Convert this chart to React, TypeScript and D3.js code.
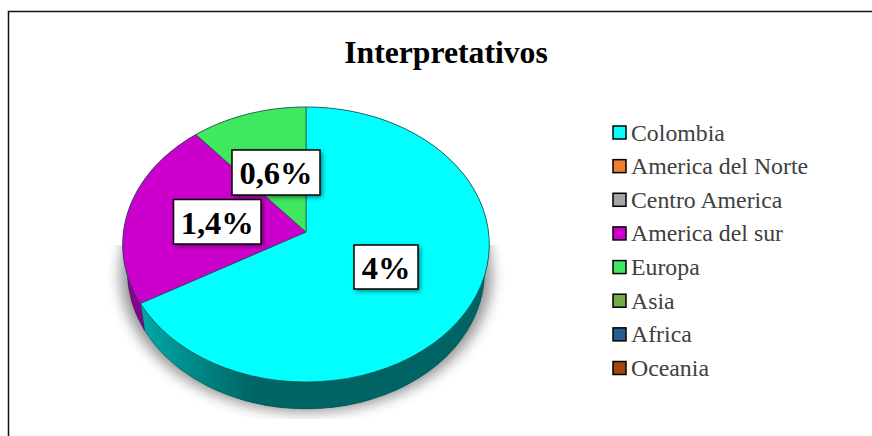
import React from "react";
import * as d3 from "d3";

const chartTitle = "Interpretativos";
const categories = ["Colombia", "America del Norte", "Centro America", "America del sur", "Europa", "Asia", "Africa", "Oceania"];
const sliceValues = [4, 0, 0, 1.33, 0.67, 0, 0, 0];
const sliceLabels = ["4%", "", "", "1,4%", "0,6%", "", "", ""];
const sliceColors = ["#00FFFF", "#ED7D31", "#A5A5A5", "#CC00CC", "#3FE85F", "#70AD47", "#255E91", "#9E480E"];
const sideColors = ["url(#wallCyan)", "#000", "#000", "#8A008A", "#228040", "#000", "#000", "#000"];

const W = 872, H = 436;
const cx = 306, apexY = 232, radiusX = 182.5, foreY = 150, backY = 125;
const k = (foreY - backY) / (foreY + backY);
const a = foreY * (1 - k);
const depthY = 27, depthScale = 0.975;

function rim(theta: number, deep = false): [number, number] {
  const u = Math.sin(theta), v = -Math.cos(theta);
  const d = 1 - k * v;
  const x = (radiusX * u) / d;
  const y = apexY + (a * v) / d;
  return deep ? [cx + x * depthScale, y + depthY] : [cx + x, y];
}
function arcPts(t0: number, t1: number, deep = false) {
  return d3.range(0, 61).map((i) => rim(t0 + ((t1 - t0) * i) / 60, deep));
}
const line = d3.line();

const pieGen = d3.pie<number>().sort(null).value((d) => d);
const arcs = pieGen(sliceValues);

const legendY = d3.scalePoint<string>().domain(categories).range([132.5, 368]);

const boxes = [
  { i: 0, x: 354, y: 245, w: 64, h: 44, dy: 12 },
  { i: 3, x: 173.5, y: 199.5, w: 87.5, h: 44.5, dy: 12 },
  { i: 4, x: 232, y: 150, w: 88, h: 45, dy: 11.5 },
];

export default function App() {
  const full = [...arcPts(0, 2 * Math.PI), ...arcPts(2 * Math.PI, 0, true)];
  return (
    <svg width={W} height={H} style={{ position: "absolute", left: 0, top: 0, background: "#fff" }}>
      <defs>
        <linearGradient id="wallCyan" gradientUnits="userSpaceOnUse" x1="140" x2="490" y1="0" y2="0">
          <stop offset="0" stopColor="#00A8A8" />
          <stop offset="0.33" stopColor="#006464" />
          <stop offset="1" stopColor="#006464" />
        </linearGradient>
        <filter id="pieShadow" x="-20%" y="-20%" width="140%" height="140%">
          <feGaussianBlur stdDeviation="7" />
        </filter>
        <filter id="boxShadow" x="-30%" y="-30%" width="160%" height="160%">
          <feGaussianBlur stdDeviation="2.5" />
        </filter>
        <clipPath id="shadowClip">
          <rect x="100" y="245" width="410" height="174" />
        </clipPath>
      </defs>

      <path d="M8.5 436V11.5H872" fill="none" stroke="#111" strokeWidth={1.5} />

      <text x={446} y={63} textAnchor="middle" fontFamily="'Liberation Serif'" fontWeight="bold" fontSize={31.7} fill="#000">
        {chartTitle}
      </text>

      <g clipPath="url(#shadowClip)">
        <path
          d={line(arcPts(0, 2 * Math.PI, true).map(([x, y]) => [cx + (x - cx) * 1.04, y + 3])) + "Z"}
          fill="#000"
          opacity={0.42}
          filter="url(#pieShadow)"
        />
      </g>

      <path d={line(full) + "Z"} fill="#006464" />
      {arcs.filter((s) => s.value > 0).map((s) => (
        <path
          key={s.index}
          d={line([...arcPts(s.startAngle, s.endAngle), ...arcPts(s.endAngle, s.startAngle, true)]) + "Z"}
          fill={sideColors[s.index]}
          stroke="#00393980"
          strokeWidth={0.6}
        />
      ))}
      {arcs.filter((s) => s.value > 0).map((s) => (
        <path
          key={s.index}
          d={line([[cx, apexY], ...arcPts(s.startAngle, s.endAngle)]) + "Z"}
          fill={sliceColors[s.index]}
          stroke="#1a4a4a"
          strokeWidth={0.7}
          strokeLinejoin="round"
        />
      ))}

      {boxes.map((b) => (
        <g key={b.i}>
          <rect x={b.x + 2} y={b.y + 2} width={b.w} height={b.h} fill="#000" opacity={0.55} filter="url(#boxShadow)" />
          <rect x={b.x} y={b.y} width={b.w} height={b.h} fill="#fff" stroke="#000" strokeWidth={1.5} />
          <text
            x={b.x + b.w / 2}
            y={b.y + b.h / 2 + b.dy}
            textAnchor="middle"
            fontFamily="'Liberation Serif'"
            fontWeight="bold"
            fontSize={32.5}
            fill="#000"
          >
            {sliceLabels[b.i]}
          </text>
        </g>
      ))}

      {categories.map((c, i) => {
        const y = legendY(c) as number;
        return (
          <g key={c}>
            <rect x={613} y={y - 6.5} width={13} height={13} fill={sliceColors[i]} stroke="#000" strokeWidth={1.5} />
            <text x={631} y={y + 8} fontFamily="'Liberation Serif'" fontSize={23.8} fill="#404040">
              {c}
            </text>
          </g>
        );
      })}
    </svg>
  );
}
